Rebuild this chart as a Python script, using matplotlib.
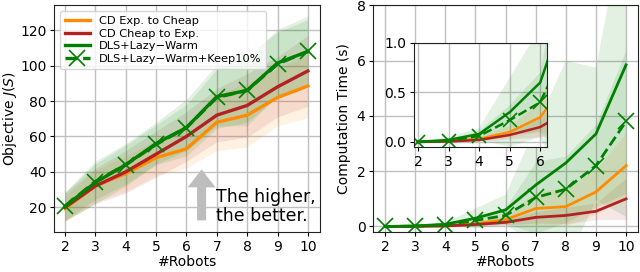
import numpy as np
import matplotlib
matplotlib.use("Agg")
import matplotlib.pyplot as plt

robots = [2, 3, 4, 5, 6, 7, 8, 9, 10]
labels = ["CD Exp. to Cheap", "CD Cheap to Exp.", "DLS+Lazy\u2212Warm", "DLS+Lazy\u2212Warm+Keep10%"]
colors = ["#ff8c00", "#b22222", "#008000", "#008000"]

# Objective J(S)
obj_mean = {
    "exp_cheap": [19.3, 32, 39, 48, 53, 68, 72, 82, 88.5],
    "cheap_exp": [20, 32, 40, 50, 60, 72, 77.5, 88, 97],
    "dls": [20.5, 34, 44, 56, 65, 82.5, 86, 101.5, 108],
    "dls_keep": [20.5, 34.5, 44, 55.5, 65, 82, 86, 101, 108],
}
obj_std = {
    "exp_cheap": [7, 9, 10, 10, 11, 16, 18, 16, 18],
    "cheap_exp": [8, 10, 12, 13, 14, 15, 18, 17, 20],
    "dls": [8, 12, 12, 12, 16, 18, 18, 19, 20],
    "dls_keep": [8, 10, 11, 11, 13, 16, 20, 18, 18],
}
# Computation time (s)
time_mean = {
    "exp_cheap": [0.0, 0.01, 0.03, 0.1, 0.25, 0.65, 0.72, 1.25, 2.2],
    "cheap_exp": [0.0, 0.005, 0.02, 0.07, 0.15, 0.33, 0.4, 0.55, 1.0],
    "dls": [0.0, 0.02, 0.08, 0.3, 0.6, 1.5, 2.3, 3.35, 5.85],
    "dls_keep": [0.0, 0.01, 0.06, 0.22, 0.4, 1.05, 1.35, 2.2, 3.8],
}
time_std = {
    "exp_cheap": [0.005, 0.01, 0.02, 0.06, 0.15, 0.6, 0.7, 0.8, 1.2],
    "cheap_exp": [0.003, 0.005, 0.01, 0.04, 0.1, 0.2, 0.3, 0.3, 0.75],
    "dls": [0.01, 0.03, 0.06, 0.35, 0.55, 2.1, 3.7, 2.4, 5.5],
    "dls_keep": [0.01, 0.02, 0.05, 0.15, 0.3, 1.3, 1.2, 1.5, 2.6],
}
keys = ["exp_cheap", "cheap_exp", "dls", "dls_keep"]

fig = plt.figure(figsize=(6.4, 2.72), dpi=100)
ax1 = fig.add_axes([0.085, 0.147, 0.415, 0.833])
ax2 = fig.add_axes([0.583, 0.147, 0.414, 0.833])
axin = fig.add_axes([0.647, 0.46, 0.208, 0.382])

x = np.array(robots)

def draw(ax, means, stds, lw=2.2, ms=11):
    for k, lab, c in zip(keys, labels, colors):
        m = np.array(means[k]); s = np.array(stds[k])
        ax.fill_between(x, m - s, m + s, color=c, alpha=0.11, lw=0)
    for k, lab, c in zip(keys, labels, colors):
        m = np.array(means[k])
        if k == "dls_keep":
            ax.plot(x, m, color=c, lw=lw, ls="--", marker="x", ms=ms, mew=1.2, label=lab)
        else:
            ax.plot(x, m, color=c, lw=lw, label=lab)

draw(ax1, obj_mean, obj_std, lw=2.4)
draw(ax2, time_mean, time_std, lw=2.0)
draw(axin, time_mean, time_std, lw=1.8, ms=10)

for ax in (ax1, ax2, axin):
    ax.grid(True, color="#c0c0c0", lw=1.0)
    ax.set_axisbelow(True)
    ax.tick_params(labelsize=10, length=3, pad=2.5)
    for sp in ax.spines.values():
        sp.set_color("#222222")

ax1.set_xlim(1.65, 10.4)
ax1.set_ylim(6, 134)
ax1.set_xticks(robots)
ax1.set_yticks([20, 40, 60, 80, 100, 120])
ax1.set_xlabel("#Robots", fontsize=10, labelpad=1)
ax1.set_ylabel("Objective $J(S)$", fontsize=10, labelpad=1)
leg = ax1.legend(loc="upper left", fontsize=8.2, handlelength=2.2, borderpad=0.4,
                 labelspacing=0.25, handletextpad=0.8, framealpha=0.8)

ax1.annotate("", xy=(6.5, 43), xytext=(6.5, 11),
             arrowprops=dict(arrowstyle="simple,head_width=2.0,head_length=1.3,tail_width=0.65",
                             color="#bdbdbd", lw=0))
ax1.text(6.98, 20.5, "The higher,\nthe better.", fontsize=12.5, va="center", ha="left",
         linespacing=1.05)

ax2.set_xlim(1.6, 10.4)
ax2.set_ylim(-0.2, 8)
ax2.set_xticks(robots)
ax2.set_yticks([0, 2, 4, 6, 8])
ax2.set_xlabel("#Robots", fontsize=10, labelpad=1)
ax2.set_ylabel("Computation Time (s)", fontsize=10, labelpad=4)

axin.set_xlim(1.87, 6.23)
axin.set_ylim(-0.05, 1.0)
axin.set_xticks([2, 3, 4, 5, 6])
axin.set_yticks([0.0, 0.5, 1.0])
axin.set_yticklabels(["0.0", "0.5", "1.0"])
axin.set_facecolor("white")

fig.savefig("out.png", dpi=100)
